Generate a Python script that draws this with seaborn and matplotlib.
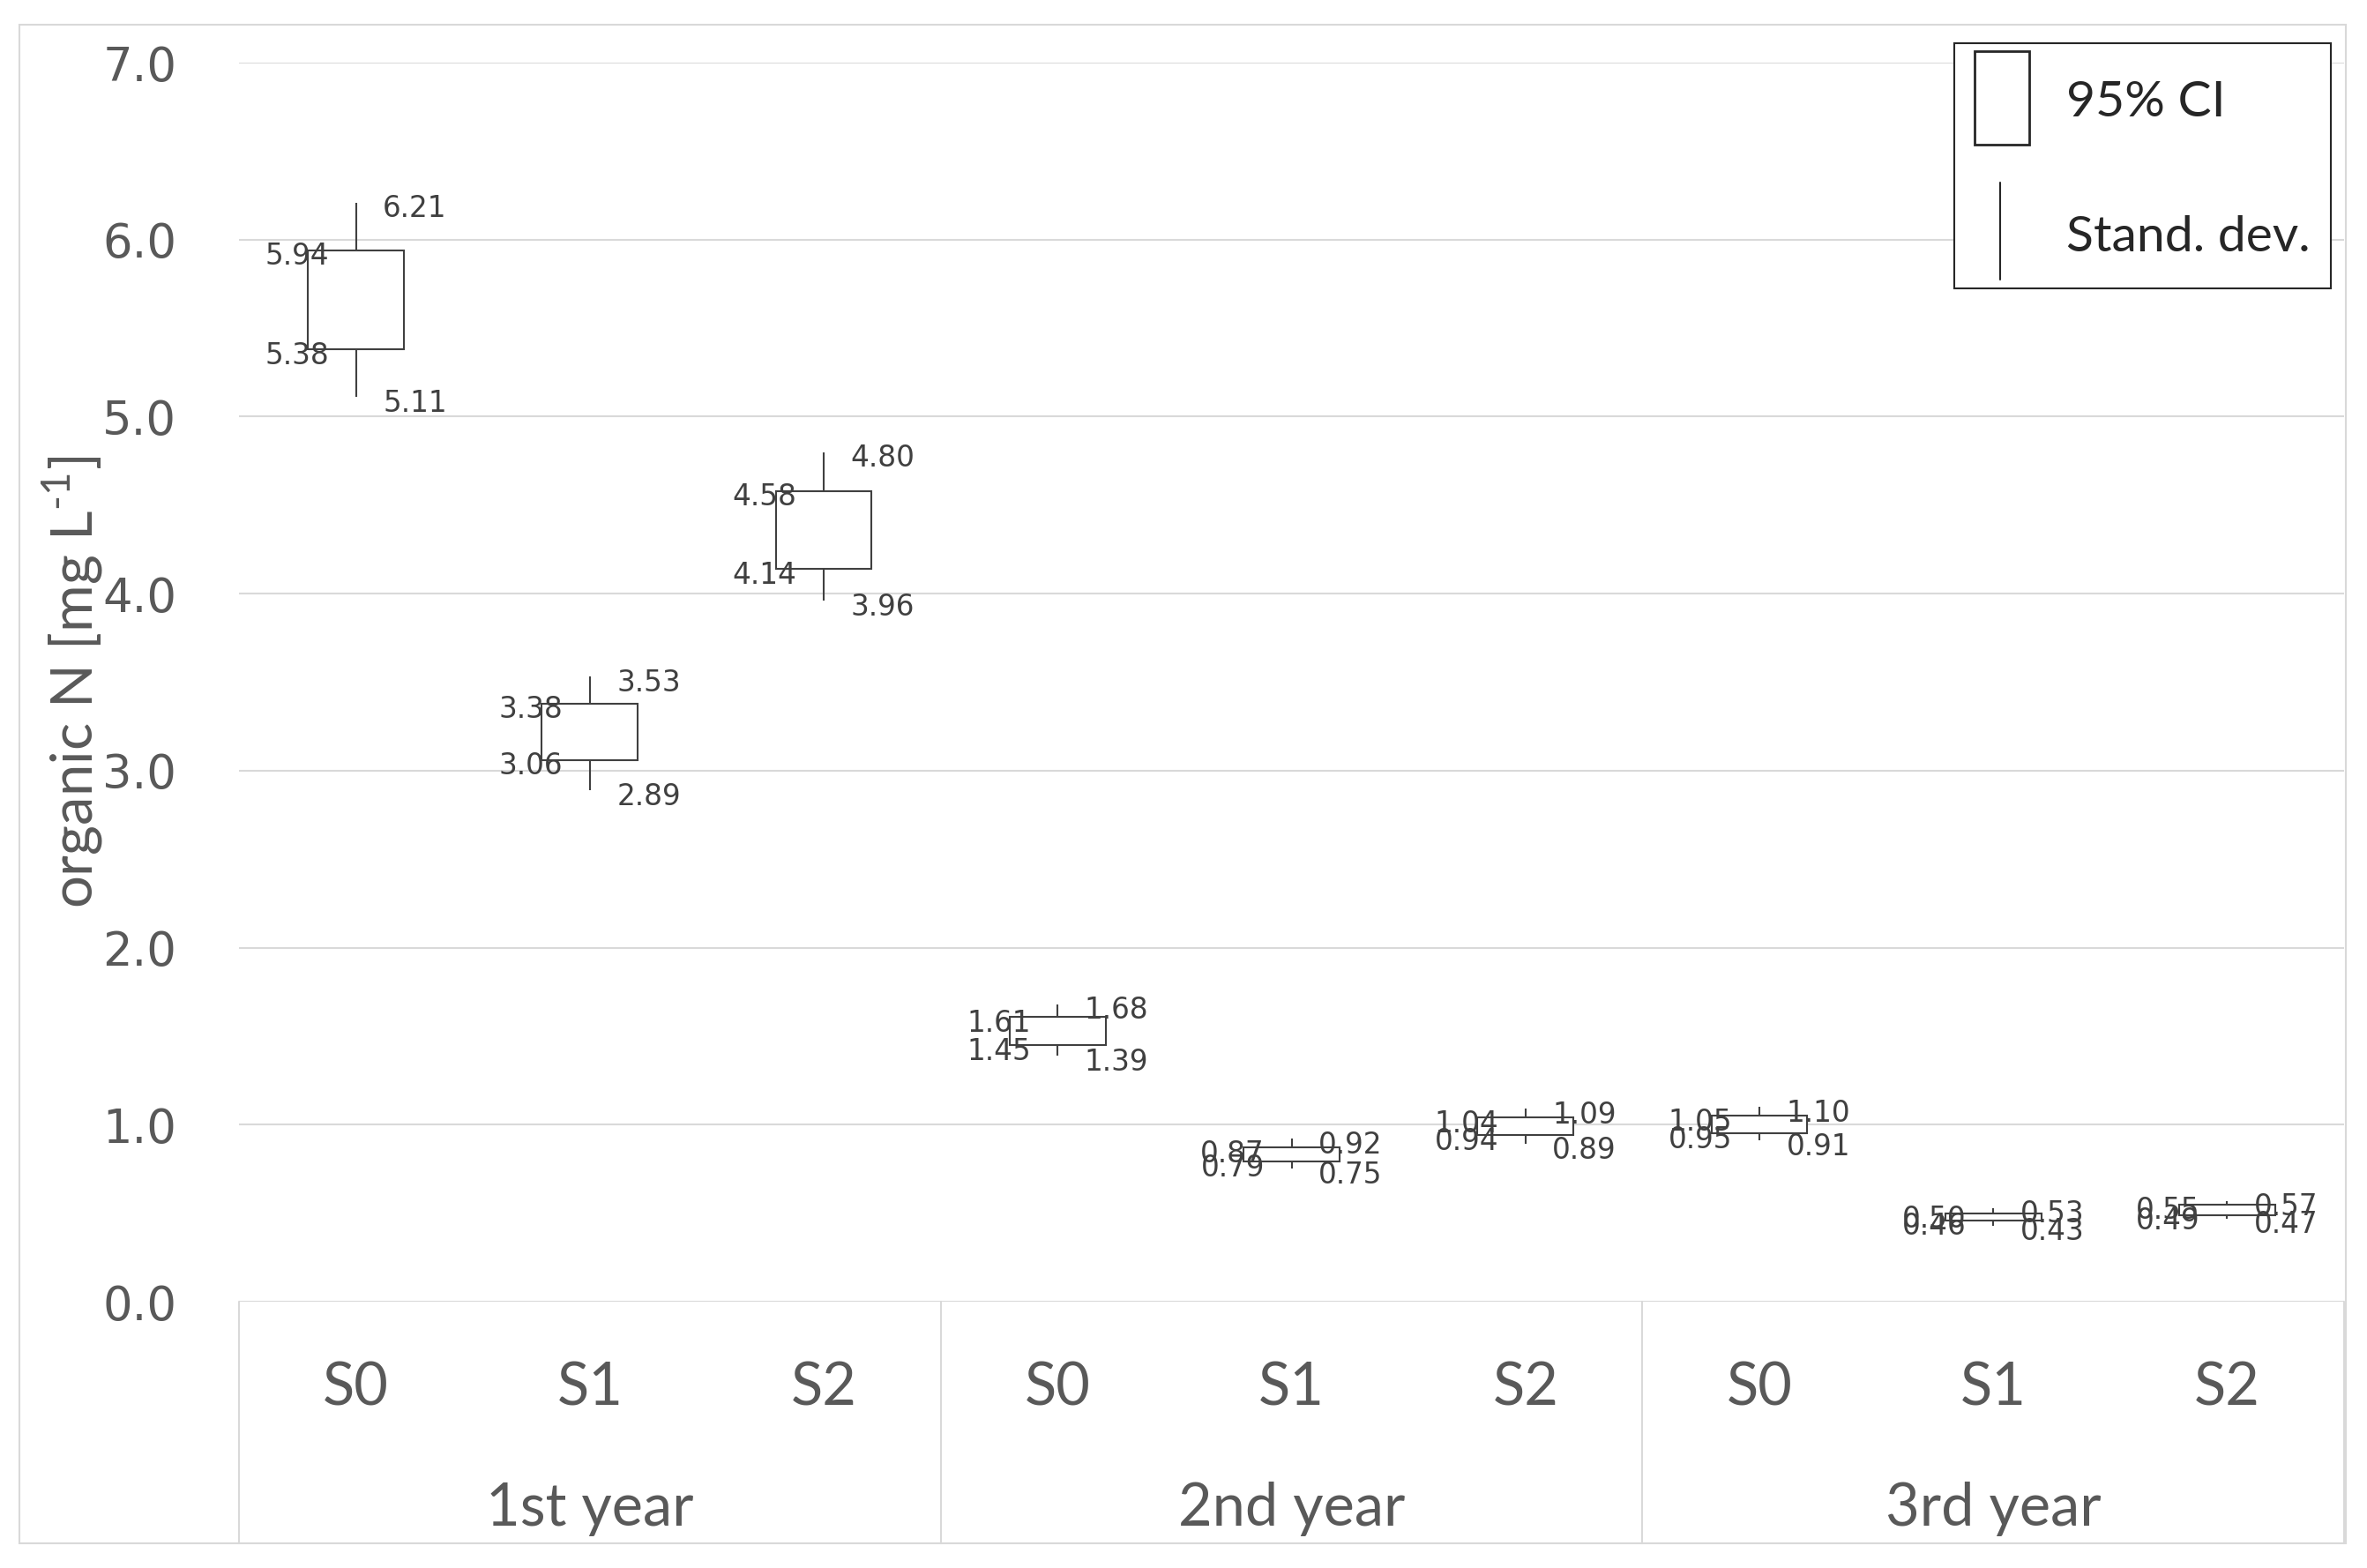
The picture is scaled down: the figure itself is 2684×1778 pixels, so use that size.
import matplotlib
matplotlib.use("Agg")
import matplotlib.pyplot as plt
from matplotlib.patches import Rectangle
from matplotlib.lines import Line2D
from matplotlib.transforms import blended_transform_factory
import pandas as pd
import seaborn as sns

# Values, organic N in mg L-1
years = ["1st year", "2nd year", "3rd year"]
variants = ["S0", "S1", "S2"]
ci_low = [5.38, 3.06, 4.14, 1.45, 0.79, 0.94, 0.95, 0.46, 0.49]
ci_high = [5.94, 3.38, 4.58, 1.61, 0.87, 1.04, 1.05, 0.50, 0.55]
sd_low = [5.11, 2.89, 3.96, 1.39, 0.75, 0.89, 0.91, 0.43, 0.47]
sd_high = [6.21, 3.53, 4.80, 1.68, 0.92, 1.09, 1.10, 0.53, 0.57]
y_ticks = [0, 1, 2, 3, 4, 5, 6, 7]
legend_labels = ["95% CI", "Stand. dev."]

sns.set_theme(style="white")
plt.rcParams["font.family"] = ["Lato", "DejaVu Sans"]
plt.rcParams["mathtext.fontset"] = "custom"
plt.rcParams["mathtext.rm"] = "Lato"

W, H = 2684, 1778
grey = "#595959"
light = "#d9d9d9"
dark = "#262626"


def fx(x):
    return x / W


def fy(y):
    return 1 - y / H


fig = plt.figure(figsize=(W / 100, H / 100), dpi=100)
fig.patch.set_facecolor("white")
ax = fig.add_axes([fx(271), fy(1476), (2658 - 271) / W, (1476 - 71) / H])

# one box per group: box = 95% CI, whiskers = standard deviation
groups = [f"{y} {v}" for y in years for v in variants]
rows = []
for g, a, b, c, d in zip(groups, sd_low, ci_low, ci_high, sd_high):
    for val in (a, b, b, c, d):
        rows.append({"group": g, "value": val})
df = pd.DataFrame(rows)

sns.boxplot(data=df, x="group", y="value", order=groups, ax=ax,
            whis=(0, 100), width=0.41, color="white", linecolor="#404040",
            linewidth=1.5, showcaps=False, showfliers=False,
            medianprops={"visible": False})

ax.set_xlim(-0.5, 8.5)
ax.set_ylim(0, 7)
ax.set_yticks(y_ticks)
ax.set_yticklabels([f"{t:.1f}" for t in y_ticks], fontsize=38, color=grey,
                   family="DejaVu Sans")
ax.tick_params(axis="y", length=0, pad=51)
ax.set_xticks([])
ax.set_xlabel("")
ax.grid(axis="y", color=light, lw=1.5)
ax.set_axisbelow(True)
for s in ax.spines.values():
    s.set_visible(False)

ax.set_ylabel("organic N [mg L$^{\\text{-1}}$]", fontsize=47,
              color=grey, va="center")
ax.yaxis.set_label_coords(-0.0792, 0.5)

# data labels
lab_kw = dict(textcoords="offset points", va="baseline", fontsize=23.5,
              color="#404040", family="DejaVu Sans")
for i in range(len(groups)):
    ax.annotate(f"{ci_high[i]:.2f}", (i, ci_high[i]), xytext=(-22, -12), ha="right", **lab_kw)
    ax.annotate(f"{ci_low[i]:.2f}", (i, ci_low[i]), xytext=(-22, -12), ha="right", **lab_kw)
    ax.annotate(f"{sd_high[i]:.2f}", (i, sd_high[i]), xytext=(22, -12), ha="left", **lab_kw)
    ax.annotate(f"{sd_low[i]:.2f}", (i, sd_low[i]), xytext=(22, -12), ha="left", **lab_kw)

# two-level category axis
trans = blended_transform_factory(ax.transData, ax.transAxes)
for i, g in enumerate(groups):
    ax.text(i, -0.0833, variants[i % 3], transform=trans, ha="center",
            va="baseline", fontsize=48, color=grey)
for j, y in enumerate(years):
    ax.text(3 * j + 1, -0.1808, y, transform=trans, ha="center",
            va="baseline", fontsize=48, color=grey)
for xs in [-0.5, 2.5, 5.5, 8.5]:
    ax.plot([xs, xs], [0, -0.195], transform=trans, color=light, lw=1.5,
            clip_on=False)

# chart border
fig.add_artist(Rectangle((fx(22), fy(1750)), (2660 - 22) / W, (1750 - 28) / H,
                         transform=fig.transFigure, fill=False, ec=light, lw=1.5))

# legend
fig.add_artist(Rectangle((fx(2216), fy(327)), 427 / W, 278 / H,
                         transform=fig.transFigure, fc="white", ec=dark, lw=1.5,
                         zorder=5))
fig.add_artist(Rectangle((fx(2239), fy(164)), 62 / W, 106 / H,
                         transform=fig.transFigure, fc="white", ec=dark, lw=2,
                         zorder=6))
fig.add_artist(Line2D([fx(2268), fx(2268)], [fy(207), fy(317)],
                      transform=fig.transFigure, color=dark, lw=1.5, zorder=6))
fig.text(fx(2343), fy(132), legend_labels[0], fontsize=41, color=dark,
         va="baseline", ha="left", zorder=7)
fig.text(fx(2343), fy(285), legend_labels[1], fontsize=41, color=dark,
         va="baseline", ha="left", zorder=7)

fig.savefig("out.png", dpi=100)
